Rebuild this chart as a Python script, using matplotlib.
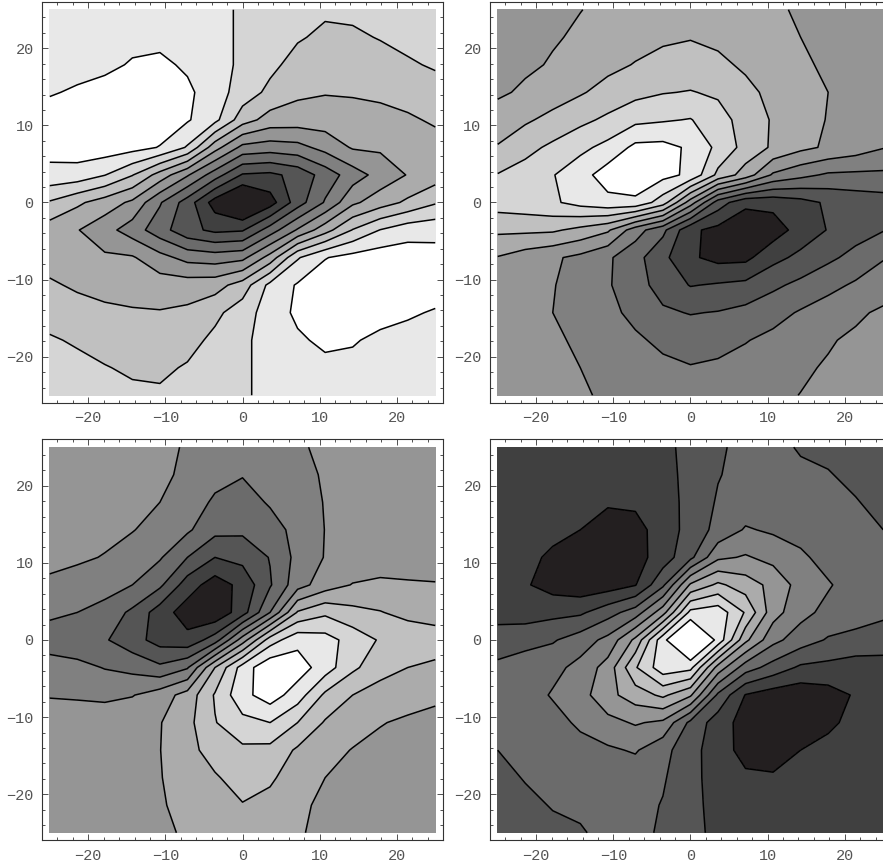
import numpy as np
import matplotlib
matplotlib.use('Agg')
import matplotlib.pyplot as plt
from matplotlib.ticker import MultipleLocator

plt.rcParams['font.family'] = ['Liberation Mono', 'DejaVu Sans']

# sample points on both axes, 15 per side
grid = np.linspace(-25, 25, 15)

# contour values and the gray of each band, darkest first
levels = [1, 2, 3, 4, 5, 6, 7, 8, 9, 10]
grays = ['#231f20', '#404040', '#555555', '#6b6b6b', '#808080', '#959595',
         '#ababab', '#c0c0c0', '#d5d5d5', '#e8e8e8', '#ffffff']

ticks = [-20, -10, 0, 10, 20]

# each table: rows from y = 25 (top) to y = -25, columns x = -25 .. 25
top_left = [
    [9.5, 9.5, 9.5, 9.5, 9.5, 9.4, 9.2, 8.9, 8.65, 8.4, 8.15, 8.2, 8.35, 8.45, 8.55],
    [9.5, 9.55, 9.6, 9.7, 9.75, 9.6, 9.3, 8.85, 8.45, 8.1, 7.8, 7.85, 8.05, 8.25, 8.4],
    [9.45, 9.6, 9.75, 10.1, 10.2, 9.85, 9.4, 8.8, 8.25, 7.63, 7.43, 7.5, 7.63, 7.89, 8.1],
    [9.9, 10.15, 10.4, 10.6, 10.55, 10.2, 9.45, 8.55, 7.75, 7.2, 7.06, 7.1, 7.19, 7.41, 7.63],
    [10.55, 10.75, 10.9, 11.0, 10.6, 10.1, 9.28, 7.45, 6.6, 6.51, 6.49, 6.58, 6.69, 6.85, 7.14],
    [10.35, 10.5, 10.55, 10.35, 9.95, 8.9, 6.4, 4.72, 4.51, 4.67, 5.34, 6.1, 6.15, 6.2, 6.6],
    [9.7, 9.6, 9.03, 8.05, 6.59, 5.11, 3.47, 1.9, 1.77, 2.31, 3.43, 4.51, 5.38, 6.05, 6.5],
    [7.9, 7.19, 6.53, 5.8, 4.1, 2.52, 0.54, -0.6, 0.54, 2.52, 4.1, 5.8, 6.53, 7.19, 7.9],
    [6.5, 6.05, 5.38, 4.51, 3.43, 2.31, 1.77, 1.9, 3.47, 5.11, 6.59, 8.05, 9.03, 9.6, 9.7],
    [6.6, 6.2, 6.15, 6.1, 5.34, 4.67, 4.51, 4.72, 6.4, 8.9, 9.95, 10.35, 10.55, 10.5, 10.35],
    [7.14, 6.85, 6.69, 6.58, 6.49, 6.51, 6.6, 7.45, 9.28, 10.1, 10.6, 11.0, 10.9, 10.75, 10.55],
    [7.63, 7.41, 7.19, 7.1, 7.06, 7.2, 7.75, 8.55, 9.45, 10.2, 10.55, 10.6, 10.4, 10.15, 9.9],
    [8.1, 7.89, 7.63, 7.5, 7.43, 7.63, 8.25, 8.8, 9.4, 9.85, 10.2, 10.1, 9.75, 9.6, 9.45],
    [8.4, 8.25, 8.05, 7.85, 7.8, 8.1, 8.45, 8.85, 9.3, 9.6, 9.75, 9.7, 9.6, 9.55, 9.5],
    [8.55, 8.45, 8.35, 8.2, 8.15, 8.4, 8.65, 8.9, 9.2, 9.4, 9.5, 9.5, 9.5, 9.5, 9.5],
]

top_right = [
    [5.35, 5.5, 5.7, 5.98, 6.2, 6.4, 6.55, 6.6, 6.5, 6.3, 6.1, 5.92, 5.65, 5.5, 5.4],
    [5.45, 5.65, 5.9, 6.15, 6.4, 6.65, 6.85, 6.95, 6.8, 6.55, 6.25, 6.0, 5.75, 5.55, 5.45],
    [5.55, 5.8, 6.1, 6.4, 6.75, 7.05, 7.3, 7.4, 7.2, 6.85, 6.5, 6.2, 5.8, 5.6, 5.45],
    [5.8, 6.2, 6.5, 6.9, 7.35, 7.7, 7.95, 8.05, 7.85, 7.25, 6.75, 6.35, 6.0, 5.65, 5.45],
    [6.6, 6.85, 7.3, 7.75, 8.2, 8.75, 8.9, 9.05, 8.4, 7.6, 6.9, 6.4, 5.95, 5.6, 5.35],
    [7.05, 7.7, 8.2, 8.75, 9.3, 10.25, 10.3, 9.85, 8.75, 7.65, 6.85, 6.25, 5.85, 5.5, 5.05],
    [8.05, 8.4, 8.95, 9.6, 10.5, 10.8, 10.3, 9.8, 7.75, 6.55, 4.85, 4.28, 3.85, 3.8, 3.8],
    [8.45, 8.6, 8.85, 9.35, 9.7, 9.75, 8.48, 5.5, 2.52, 1.25, 1.3, 1.65, 2.15, 2.4, 2.55],
    [7.2, 7.2, 7.15, 6.72, 6.15, 4.45, 3.25, 1.2, 0.7, 0.2, 0.5, 1.4, 2.05, 2.6, 2.95],
    [5.95, 5.5, 5.15, 4.75, 4.15, 3.35, 2.25, 1.15, 0.7, 0.75, 1.7, 2.25, 2.8, 3.3, 3.95],
    [5.65, 5.4, 5.05, 4.6, 4.1, 3.4, 2.6, 1.95, 2.1, 2.25, 2.8, 3.25, 3.7, 4.15, 4.4],
    [5.55, 5.35, 5.0, 4.65, 4.25, 3.75, 3.15, 2.95, 3.05, 3.3, 3.65, 4.1, 4.5, 4.8, 5.2],
    [5.55, 5.4, 5.2, 4.8, 4.5, 4.15, 3.8, 3.6, 3.7, 3.95, 4.25, 4.6, 4.9, 5.2, 5.45],
    [5.55, 5.45, 5.25, 5.0, 4.75, 4.45, 4.2, 4.05, 4.15, 4.35, 4.6, 4.85, 5.1, 5.35, 5.55],
    [5.6, 5.5, 5.35, 5.08, 4.9, 4.7, 4.5, 4.4, 4.45, 4.6, 4.8, 5.02, 5.3, 5.5, 5.65],
]

bottom_left = [
    [5.65, 5.6, 5.55, 5.45, 5.25, 4.9, 4.5, 4.35, 4.5, 4.9, 5.15, 5.45, 5.6, 5.7, 5.75],
    [5.6, 5.55, 5.5, 5.35, 5.15, 4.85, 4.3, 4.05, 4.35, 4.7, 5.1, 5.4, 5.55, 5.65, 5.7],
    [5.55, 5.5, 5.4, 5.25, 5.0, 4.5, 3.85, 3.6, 4.1, 4.5, 5.05, 5.35, 5.5, 5.6, 5.7],
    [5.45, 5.35, 5.25, 5.05, 4.6, 4.15, 3.3, 3.2, 3.6, 4.3, 5.02, 5.3, 5.5, 5.6, 5.65],
    [5.3, 5.15, 4.95, 4.5, 4.1, 3.0, 2.0, 2.3, 3.05, 4.3, 5.05, 5.3, 5.45, 5.55, 5.6],
    [4.8, 4.6, 4.45, 4.0, 3.2, 1.5, 0.5, 1.3, 2.9, 4.6, 5.5, 6.05, 6.2, 6.1, 6.05],
    [4.2, 4.0, 3.6, 2.8, 1.5, 0.5, 0.2, 1.55, 4.0, 7.1, 7.8, 7.3, 7.05, 6.7, 6.55],
    [3.5, 3.3, 3.1, 2.4, 1.6, 1.3, 2.5, 5.5, 8.5, 9.7, 9.4, 8.6, 7.9, 7.7, 7.5],
    [4.45, 4.3, 3.95, 3.7, 3.2, 3.9, 7.0, 9.45, 10.8, 10.5, 9.5, 8.2, 7.4, 7.0, 6.8],
    [4.95, 4.9, 4.8, 4.95, 5.5, 6.4, 8.1, 9.7, 10.5, 9.5, 7.8, 7.0, 6.55, 6.4, 6.2],
    [5.4, 5.45, 5.55, 5.7, 5.95, 6.7, 7.95, 8.7, 9.0, 8.0, 6.9, 6.5, 6.05, 5.85, 5.7],
    [5.35, 5.4, 5.5, 5.7, 5.98, 6.7, 7.4, 7.8, 7.7, 6.85, 6.4, 5.95, 5.75, 5.65, 5.55],
    [5.3, 5.4, 5.5, 5.65, 5.95, 6.5, 6.9, 7.4, 7.15, 6.5, 6.0, 5.75, 5.6, 5.5, 5.45],
    [5.3, 5.35, 5.45, 5.6, 5.9, 6.3, 6.65, 6.95, 6.7, 6.15, 5.85, 5.65, 5.5, 5.45, 5.4],
    [5.25, 5.3, 5.4, 5.55, 5.85, 6.1, 6.5, 6.65, 6.5, 6.1, 5.75, 5.55, 5.45, 5.4, 5.35],
]

bottom_right = [
    [1.5, 1.45, 1.4, 1.4, 1.4, 1.45, 1.7, 2.35, 2.9, 3.2, 3.15, 2.95, 2.8, 2.65, 2.5],
    [1.45, 1.4, 1.35, 1.3, 1.3, 1.35, 1.6, 2.35, 2.95, 3.3, 3.35, 3.1, 3.05, 2.8, 2.6],
    [1.4, 1.35, 1.3, 1.2, 1.1, 1.15, 1.5, 2.35, 3.1, 3.4, 3.5, 3.45, 3.35, 3.05, 2.75],
    [1.3, 1.2, 1.15, 1.0, 0.6, 0.7, 1.4, 2.4, 3.3, 4.1, 3.85, 3.6, 3.45, 3.3, 3.0],
    [1.2, 1.15, 0.9, 0.15, 0.1, 0.6, 1.49, 2.75, 4.8, 5.1, 4.7, 4.2, 3.6, 3.45, 3.3],
    [1.3, 1.1, 0.6, 0.35, 0.5, 0.95, 2.8, 6.15, 7.2, 6.5, 5.7, 4.6, 4.1, 3.5, 3.35],
    [1.6, 1.5, 1.71, 1.83, 2.6, 3.47, 5.6, 9.3, 9.6, 7.9, 5.41, 4.32, 3.7, 3.45, 3.2],
    [2.5, 2.7, 2.9, 3.49, 4.29, 6.24, 9.7, 12.0, 9.7, 6.24, 4.29, 3.49, 2.9, 2.7, 2.5],
    [3.2, 3.45, 3.7, 4.32, 5.41, 7.9, 9.6, 9.3, 5.6, 3.47, 2.6, 1.83, 1.71, 1.5, 1.6],
    [3.35, 3.5, 4.1, 4.6, 5.7, 6.5, 7.2, 6.15, 2.8, 0.95, 0.5, 0.35, 0.6, 1.1, 1.3],
    [3.3, 3.45, 3.6, 4.2, 4.7, 5.1, 4.8, 2.75, 1.49, 0.6, 0.1, 0.15, 0.9, 1.15, 1.2],
    [3.0, 3.3, 3.45, 3.6, 3.85, 4.1, 3.3, 2.4, 1.4, 0.7, 0.6, 1.0, 1.15, 1.2, 1.3],
    [2.75, 3.05, 3.35, 3.45, 3.5, 3.4, 3.1, 2.35, 1.5, 1.15, 1.1, 1.2, 1.3, 1.35, 1.4],
    [2.6, 2.8, 3.05, 3.1, 3.35, 3.3, 2.95, 2.35, 1.6, 1.35, 1.3, 1.3, 1.35, 1.4, 1.45],
    [2.5, 2.65, 2.8, 2.95, 3.15, 3.2, 2.9, 2.35, 1.7, 1.45, 1.4, 1.4, 1.4, 1.45, 1.5],
]


def draw(axes, rows):
    z = np.array(rows)[::-1]
    axes.contourf(grid, grid, z, levels=[-50] + levels + [50], colors=grays)
    axes.contour(grid, grid, z, levels=levels, colors='k', linewidths=1.1)
    axes.set_xlim(-26, 26)
    axes.set_ylim(-26, 26)
    axes.set_xticks(ticks)
    axes.set_yticks(ticks)
    axes.xaxis.set_minor_locator(MultipleLocator(2))
    axes.yaxis.set_minor_locator(MultipleLocator(2))
    axes.tick_params(which='both', direction='in', top=True, right=True,
                     color='#333333', width=0.6)
    axes.tick_params(which='major', length=4, labelsize=11,
                     labelcolor='#555555', pad=6)
    axes.tick_params(which='minor', length=2)
    for spine in axes.spines.values():
        spine.set_linewidth(0.8)
        spine.set_color('#333333')


fig = plt.figure(figsize=(8.83, 8.67), dpi=100)
draw(fig.add_axes([0.0476, 0.5352, 0.4541, 0.4625]), top_left)
draw(fig.add_axes([0.5549, 0.5352, 0.4541, 0.4625]), top_right)
draw(fig.add_axes([0.0476, 0.0306, 0.4541, 0.4625]), bottom_left)
draw(fig.add_axes([0.5549, 0.0306, 0.4541, 0.4625]), bottom_right)
fig.savefig('out.png', dpi=100)
